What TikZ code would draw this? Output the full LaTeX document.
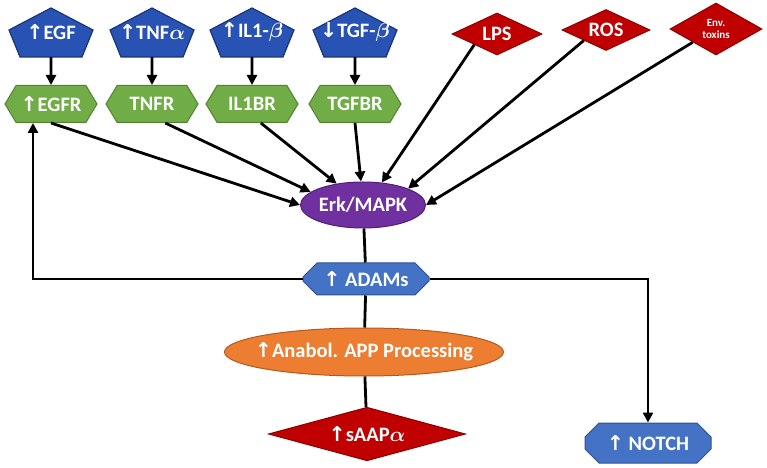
\documentclass[tikz,border=0pt]{standalone}
\usepackage{amsmath}
\usepackage{fontspec}
\setmainfont{Carlito}
\newfontfamily\arrowfont{DejaVu Sans}
\usetikzlibrary{arrows.meta,shapes}
\definecolor{ligandblue}{RGB}{40,82,180}
\definecolor{ligandedge}{RGB}{26,52,118}
\definecolor{recgreen}{RGB}{112,173,71}
\definecolor{recedge}{RGB}{80,130,50}
\definecolor{stressred}{RGB}{192,0,0}
\definecolor{stressedge}{RGB}{140,0,0}
\definecolor{kinpurple}{RGB}{112,48,160}
\definecolor{kinedge}{RGB}{80,30,120}
\definecolor{adamblue}{RGB}{68,114,196}
\definecolor{adamedge}{RGB}{45,80,145}
\definecolor{procorange}{RGB}{237,125,49}
\definecolor{procedge}{RGB}{180,90,30}
\newcommand{\labelfont}{\bfseries\fontsize{20.5bp}{22bp}\selectfont}
\newcommand{\uar}{{\arrowfont\bfseries ↑}}
\newcommand{\dar}{{\arrowfont\bfseries ↓}}
\tikzstyle{ligand}=[fill=ligandblue,draw=ligandedge,line width=1.2bp]
\tikzstyle{ligandtext}=[minimum width=84bp,minimum height=50bp,inner sep=0pt,text=white,font=\labelfont]
\tikzstyle{receptor}=[signal,signal to=west and east,signal pointer angle=118,minimum width=92bp,minimum height=37bp,inner sep=0pt,fill=recgreen,draw=recedge,line width=1bp,text=white,font=\labelfont]
\tikzstyle{stress}=[diamond,aspect=2,inner sep=0pt,fill=stressred,draw=stressedge,line width=1bp,text=white,font=\labelfont]
\tikzstyle{kinase}=[ellipse,inner sep=0pt,fill=kinpurple,draw=kinedge,line width=1bp,text=white,font=\labelfont]
\tikzstyle{enzyme}=[chamfered rectangle,chamfered rectangle xsep=7bp,chamfered rectangle ysep=7bp,inner sep=0pt,fill=adamblue,draw=adamedge,line width=1bp,text=white,font=\labelfont]
\tikzstyle{process}=[ellipse,inner xsep=-10.5bp,inner ysep=0pt,fill=procorange,draw=procedge,line width=1bp,text=white,font=\labelfont]
\tikzstyle{sigarrow}=[draw,line width=2.8bp,-{Triangle[length=10bp,width=10bp]}]
\tikzstyle{sigline}=[draw,line width=2.8bp,-]

\begin{document}
\begin{tikzpicture}[x=1bp,y=-1bp]
    \useasboundingbox (0,0) rectangle (767,468);
    % Ligands on top, each over its receptor
    \foreach \pos/\name/\txt in {{(51,32)/egf/{\uar EGF}}, {(152,32)/tnf/{\uar TNF$\boldsymbol{\alpha}$}}, {(252,32)/il1/{\uar IL1-$\boldsymbol{\beta}$}}, {(355,32)/tgf/{\dar TGF-$\boldsymbol{\beta}$}}}
    {
        \path[ligand] \pos ++(0,-24) -- ++(42,22) -- ++(-11,27) -- ++(-62,0) -- ++(-11,-27) -- cycle;
        \node[ligandtext] (\name) at \pos {\txt};
    }
    \foreach \pos/\name/\txt in {{(51,104)/egfr/{\uar EGFR}}, {(152,104)/tnfr/TNFR}, {(252,104)/il1br/IL1BR}, {(355,104)/tgfbr/TGFBR}}
        \node[receptor] (\name) at \pos {\txt};
    % Stress signals
    \node[stress,minimum width=90bp,minimum height=42bp] (lps) at (497,34) {LPS};
    \node[stress,minimum width=88bp,minimum height=41bp] (ros) at (606,30) {ROS};
    \node[stress,minimum width=92bp,minimum height=52bp,align=center,font=\bfseries\fontsize{11bp}{12.5bp}\selectfont] (env) at (716,29) {Env.\\toxins};
    % Cascade
    \node[kinase,minimum width=118bp,minimum height=46bp] (erk) at (363,205) {Erk/MAPK};
    \node[enzyme,minimum width=126bp,minimum height=32bp] (adams) at (366,279) {\uar{} ADAMs};
    \node[process,minimum width=272bp,minimum height=48bp] (proc) at (364,352) {\uar Anabol. APP Processing};
    \node[stress,minimum width=197bp,minimum height=47bp] (saap) at (367,434) {\uar sAAP$\boldsymbol{\alpha}$};
    \node[enzyme,minimum width=126bp,minimum height=40bp] (notch) at (648,443) {\uar{} NOTCH};
    % Ligand to receptor
    \foreach \source/\dest in {egf/egfr, tnf/tnfr, il1/il1br, tgf/tgfbr}
        \path[sigarrow] (\source) -- (\dest);
    % Everything converges on Erk/MAPK
    \foreach \source/\angle in {egfr.south/180, tnfr.305/166, il1br.295/141, tgfbr.south/95, lps.south west/50, ros.south west/20, env.south west/0}
        \path[sigarrow] (\source) -- (erk.\angle);
    \path[sigline] (erk) -- (adams);
    \path[sigline] (adams) -- (proc);
    \path[sigline] (proc) -- (saap);
    % Feedback to EGFR and branch to NOTCH
    \coordinate (back) at (33,279);
    \path[sigarrow] (adams.west) -- (back) -- (back |- egfr.south);
    \path[sigarrow] (adams.east) -| (notch.north);
\end{tikzpicture}
\end{document}
